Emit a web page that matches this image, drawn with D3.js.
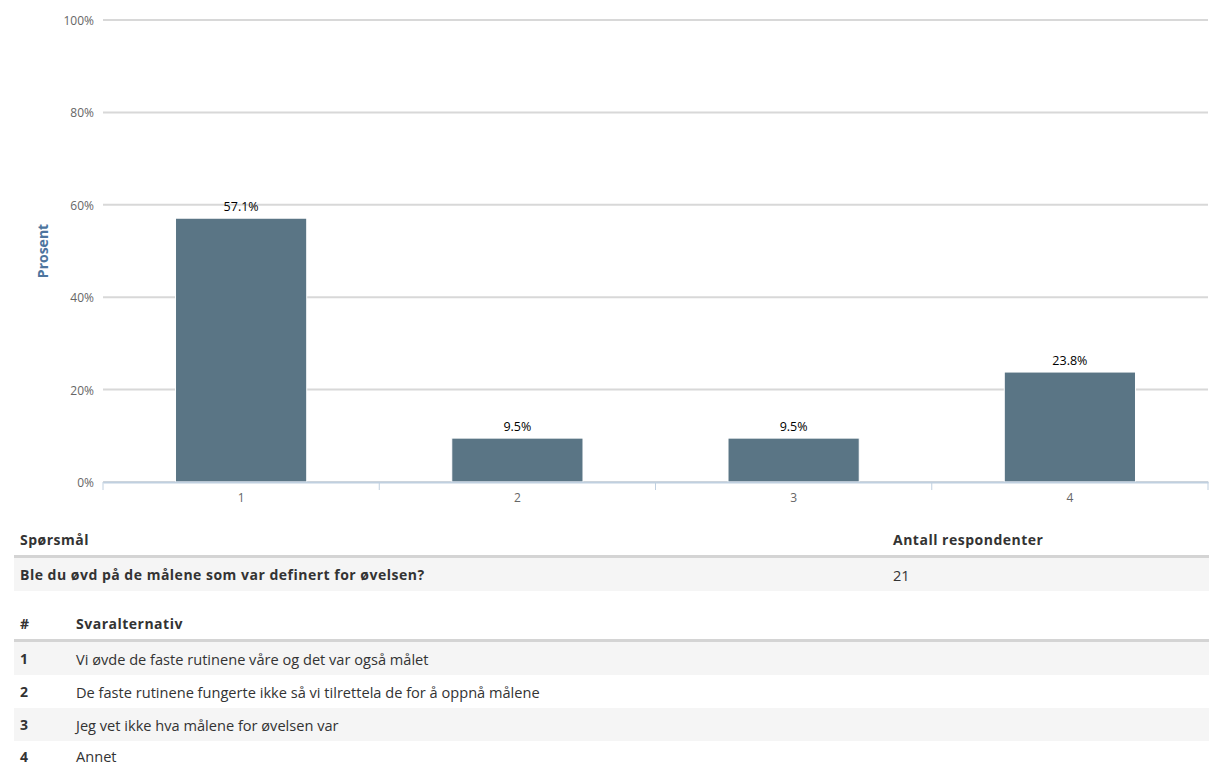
<!DOCTYPE html>
<html>
<head>
<meta charset="utf-8">
<script src="https://cdn.jsdelivr.net/npm/d3@7"></script>
<style>
  body { margin: 0; background: #fff; font-family: "Open Sans", sans-serif; overflow: hidden; }
  #chart { position: absolute; left: 0; top: 0; }
  table { position: absolute; left: 14px; width: 1195px; border-collapse: collapse; font-size: 14.6px; color: #333; }
  td, th { height: 33px; padding: 0 6px; text-align: left; }
  th { font-weight: bold; font-size: 14px; letter-spacing: 0.5px; border-bottom: 3px solid #d4d4d4; height: 31px; }
  tr.alt td { background: #f5f5f5; }
  td.b { font-weight: bold; font-size: 14px; letter-spacing: 0.5px; }
  tr.last td { height: 15px; line-height: 15px; padding-top: 8px; vertical-align: top; }
</style>
</head>
<body>
<div id="chart"></div>
<table id="qtable" style="top:524px"></table>
<table id="atable" style="top:608px"></table>
<script>
// data
const categories = ["1", "2", "3", "4"];
const values = [57.1, 9.5, 9.5, 23.8];
const yTicks = [0, 20, 40, 60, 80, 100];
const answers = [
  "Vi øvde de faste rutinene våre og det var også målet",
  "De faste rutinene fungerte ikke så vi tilrettela de for å oppnå målene",
  "Jeg vet ikke hva målene for øvelsen var",
  "Annet"
];
const question = "Ble du øvd på de målene som var definert for øvelsen?";
const respondents = 21;

const width = 1209, height = 520;
const margin = { top: 20, right: 1, bottom: 38, left: 103 };

const svg = d3.select("#chart").append("svg")
    .attr("width", width)
    .attr("height", height);

const x = d3.scaleBand()
    .domain(categories)
    .range([margin.left, width - margin.right])
    .paddingInner(0.525)
    .paddingOuter(0.2625);

const y = d3.scaleLinear()
    .domain([0, 100])
    .range([height - margin.bottom, margin.top]);

// gridlines
svg.append("g")
    .selectAll("line")
    .data(yTicks)
    .enter().append("line")
    .attr("x1", margin.left)
    .attr("x2", width - margin.right)
    .attr("y1", d => y(d))
    .attr("y2", d => y(d))
    .attr("stroke", "#d8d8d8")
    .attr("stroke-width", 2);

// y labels
svg.append("g")
    .selectAll("text")
    .data(yTicks)
    .enter().append("text")
    .attr("x", margin.left - 9)
    .attr("y", d => y(d) + 5)
    .attr("text-anchor", "end")
    .attr("font-size", 12)
    .attr("fill", "#666")
    .text(d => d + "%");

// axis title
svg.append("text")
    .attr("transform", `translate(48,${(y(0) + y(100)) / 2}) rotate(-90)`)
    .attr("text-anchor", "middle")
    .attr("font-size", 14)
    .attr("font-weight", "bold")
    .attr("fill", "#4d759e")
    .text("Prosent");

// bars
svg.selectAll(".bar")
    .data(values)
    .enter().append("rect")
    .attr("class", "bar")
    .attr("x", (d, i) => x(categories[i]))
    .attr("y", d => y(d))
    .attr("width", x.bandwidth())
    .attr("height", d => y(0) - y(d))
    .attr("fill", "#5a7585")
    .attr("stroke", "#fff")
    .attr("stroke-width", 1);

// value labels
svg.selectAll(".lbl")
    .data(values)
    .enter().append("text")
    .attr("x", (d, i) => x(categories[i]) + x.bandwidth() / 2)
    .attr("y", d => y(d) - 7)
    .attr("text-anchor", "middle")
    .attr("font-size", 12.5)
    .attr("fill", "#000")
    .text(d => d.toFixed(1) + "%");

// x axis
const xAxis = d3.axisBottom(x).tickSize(0).tickPadding(11);
const gx = svg.append("g")
    .attr("transform", `translate(0,${y(0)})`)
    .call(xAxis);
gx.select(".domain").attr("stroke", "#c0d0e0").attr("stroke-width", 2);
gx.selectAll("text").attr("font-size", 12).attr("fill", "#666")
    .attr("font-family", "Open Sans, sans-serif");

// tick marks between categories
const step = x.step();
svg.append("g")
    .selectAll("line")
    .data(d3.range(categories.length + 1))
    .enter().append("line")
    .attr("x1", i => margin.left + i * step)
    .attr("x2", i => margin.left + i * step)
    .attr("y1", y(0))
    .attr("y2", y(0) + 8)
    .attr("stroke", "#c0d0e0")
    .attr("stroke-width", 1);

// tables
const qt = d3.select("#qtable");
const qh = qt.append("tr");
qh.append("th").style("width", "861px").text("Spørsmål");
qh.append("th").text("Antall respondenter");
const qr = qt.append("tr").attr("class", "alt");
qr.append("td").attr("class", "b").text(question);
qr.append("td").text(respondents);

const at = d3.select("#atable");
const ah = at.append("tr");
ah.append("th").style("width", "44px").text("#");
ah.append("th").text("Svaralternativ");
answers.forEach((a, i) => {
  let cls = i % 2 === 0 ? "alt" : "";
  if (i === answers.length - 1) cls += " last";
  const r = at.append("tr").attr("class", cls);
  r.append("td").attr("class", "b").text(categories[i]);
  r.append("td").text(a);
});
</script>
</body>
</html>
